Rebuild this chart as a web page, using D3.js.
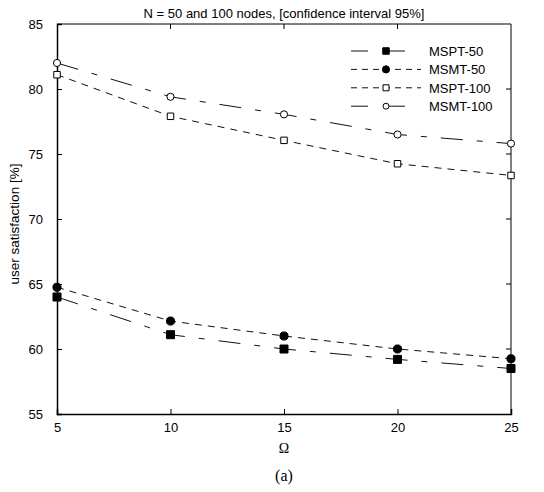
<!DOCTYPE html>
<html>
<head>
<meta charset="utf-8">
<script src="https://cdn.jsdelivr.net/npm/d3@7"></script>
<style>
  body { margin: 0; background: #fff; }
  text { font-family: "Liberation Sans", Arial, sans-serif; fill: #000; }
</style>
</head>
<body>
<div class="chart"></div>
<script>
var omega = [5, 10, 15, 20, 25];
var mspt50 = [64.0, 61.1, 60.0, 59.2, 58.5];
var msmt50 = [64.75, 62.15, 61.0, 60.0, 59.25];
var mspt100 = [81.1, 77.9, 76.05, 74.25, 73.35];
var msmt100 = [82.0, 79.4, 78.05, 76.5, 75.8];
var seriesNames = ["MSPT-50", "MSMT-50", "MSPT-100", "MSMT-100"];
var yTicks = [55, 60, 65, 70, 75, 80, 85];

var svgWidth = 544, svgHeight = 492;
var margin = { top: 24, right: 33, bottom: 78, left: 57 };
var width = svgWidth - margin.left - margin.right;
var height = svgHeight - margin.top - margin.bottom;

var svg = d3.select(".chart").append("svg")
  .attr("width", svgWidth)
  .attr("height", svgHeight);

var chartGroup = svg.append("g")
  .attr("transform", `translate(${margin.left}, ${margin.top})`);

var x = d3.scaleLinear().domain([5, 25]).range([0, width]);
var y = d3.scaleLinear().domain([55, 85]).range([height, 0]);

// styles per series: dash pattern, marker, fill
var styles = [
  { dash: "22,14,6,14", shape: d3.symbolSquare, fill: "#000", size: 64, lsize: 42 },
  { dash: "7,6", shape: d3.symbolCircle, fill: "#000", size: 52, lsize: 40 },
  { dash: "7,6", shape: d3.symbolSquare, fill: "#fff", size: 42, lsize: 36 },
  { dash: "22,14,6,14", shape: d3.symbolCircle, fill: "#fff", size: 40, lsize: 28 }
];
var allSeries = [mspt50, msmt50, mspt100, msmt100];

// frame (top + right)
chartGroup.append("line").attr("x1", 0).attr("x2", width).attr("y1", 0).attr("y2", 0)
  .attr("stroke", "#000").attr("stroke-width", 1);
chartGroup.append("line").attr("x1", width).attr("x2", width).attr("y1", 0).attr("y2", height)
  .attr("stroke", "#000").attr("stroke-width", 1);

// axes, ticks inward
var bottomAxis = d3.axisBottom(x).tickValues(omega).tickSize(-5).tickPadding(9).tickFormat(d3.format("d"));
var leftAxis = d3.axisLeft(y).tickValues(yTicks).tickSize(-5).tickPadding(14);

var gx = chartGroup.append("g").attr("transform", `translate(0, ${height})`).call(bottomAxis);
var gy = chartGroup.append("g").call(leftAxis);
[gx, gy].forEach(function(g) {
  g.select(".domain").attr("stroke-width", 1.5);
  g.selectAll("text").style("font-size", "13px");
});
gx.selectAll(".tick").filter(d => d === 5 || d === 25).select("line").remove();
gy.selectAll(".tick").filter(d => d === 55 || d === 85).select("line").remove();

// top and right ticks
chartGroup.selectAll(".ttick").data([10, 15, 20]).enter().append("line")
  .attr("x1", d => x(d)).attr("x2", d => x(d)).attr("y1", 0).attr("y2", 5)
  .attr("stroke", "#000");
chartGroup.selectAll(".rtick").data([60, 65, 70, 75, 80]).enter().append("line")
  .attr("x1", width).attr("x2", width - 5).attr("y1", d => y(d)).attr("y2", d => y(d))
  .attr("stroke", "#000");

// series lines
var line = d3.line().x((d, i) => x(omega[i])).y(d => y(d));
allSeries.forEach(function(s, k) {
  chartGroup.append("path").datum(s)
    .attr("d", line)
    .attr("fill", "none")
    .attr("stroke", "#111")
    .attr("stroke-width", 1)
    .attr("stroke-dasharray", styles[k].dash);
});
allSeries.forEach(function(s, k) {
  chartGroup.selectAll(".m" + k).data(s).enter().append("path")
    .attr("transform", (d, i) => `translate(${x(omega[i])}, ${y(d)})`)
    .attr("d", d3.symbol().type(styles[k].shape).size(styles[k].size))
    .attr("fill", styles[k].fill)
    .attr("stroke", "#000")
    .attr("stroke-width", 1);
});

// legend
var legend = svg.append("g").attr("transform", "translate(351, 51)");
seriesNames.forEach(function(name, k) {
  var row = legend.append("g").attr("transform", `translate(0, ${k * 18.4})`);
  row.append("line").attr("x1", 0).attr("x2", 70).attr("y1", 0).attr("y2", 0)
    .attr("stroke", "#111").attr("stroke-width", 1)
    .attr("stroke-dasharray", k === 0 || k === 3 ? "17,20,17" : "6,5");
  row.append("path").attr("transform", "translate(35, 0)")
    .attr("d", d3.symbol().type(styles[k].shape).size(styles[k].lsize))
    .attr("fill", styles[k].fill).attr("stroke", "#000");
  row.append("text").attr("x", 78).attr("y", 5).style("font-size", "13px")
    .text(name);
});

// title and labels
svg.append("text").attr("x", margin.left + width / 2).attr("y", 18)
  .attr("text-anchor", "middle").style("font-size", "13px")
  .text("N = 50 and 100 nodes, [confidence interval 95%]");

svg.append("text")
  .attr("transform", "translate(19, 224) rotate(-90)")
  .attr("text-anchor", "middle").style("font-size", "13.5px")
  .text("user satisfaction [%]");

svg.append("text").attr("x", margin.left + width / 2).attr("y", 453)
  .attr("text-anchor", "middle").style("font-family", "'Liberation Serif', serif").style("font-size", "14px")
  .text("Ω");

svg.append("text").attr("x", margin.left + width / 2).attr("y", 481)
  .attr("text-anchor", "middle").style("font-family", "'Liberation Serif', serif").style("font-size", "16px")
  .text("(a)");
</script>
</body>
</html>
